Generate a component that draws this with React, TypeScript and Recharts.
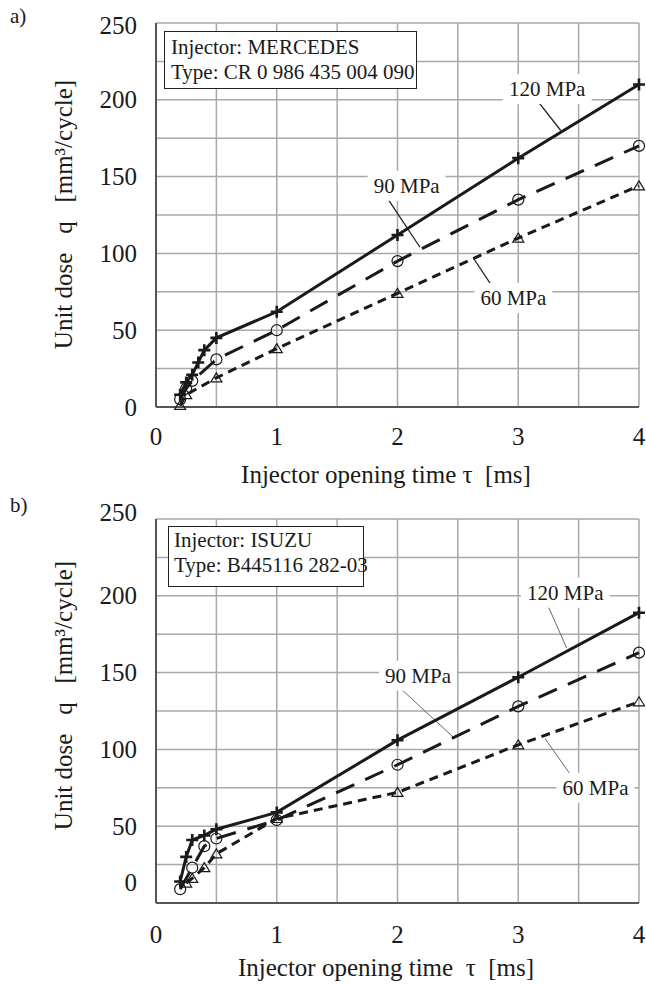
import React from "react";
import { LineChart, Line, XAxis, YAxis, CartesianGrid, ReferenceLine, ReferenceDot } from "recharts";

const xTicks = [0, 0.5, 1, 1.5, 2, 2.5, 3, 3.5, 4];
const yTicks = [0, 25, 50, 75, 100, 125, 150, 175, 200, 225, 250];

// a) MERCEDES CR 0 986 435 004 090
const tauA120 = [0.2, 0.25, 0.3, 0.35, 0.4, 0.5, 1, 2, 3, 4];
const doseA120 = [8, 16, 21, 29, 37, 45, 62, 112, 162, 210];
const tauA90 = [0.2, 0.25, 0.3, 0.5, 1, 2, 3, 4];
const doseA90 = [5, 12, 17, 31, 50, 95, 135, 170];
const tauA60 = [0.2, 0.25, 0.5, 1, 2, 3, 4];
const doseA60 = [1, 8, 19, 38, 74, 110, 144];

// b) ISUZU B445116 282-03
const tauB120 = [0.2, 0.25, 0.3, 0.4, 0.5, 1, 2, 3, 4];
const doseB120 = [14, 30, 41, 44, 48, 59, 106, 147, 189];
const tauB90 = [0.2, 0.3, 0.4, 0.5, 1, 2, 3, 4];
const doseB90 = [9, 23, 37, 42, 54, 90, 128, 163];
const tauB60 = [0.25, 0.3, 0.4, 0.5, 1, 2, 3, 4];
const doseB60 = [13, 16, 23, 32, 55, 72, 103, 131];

const pressures = ["120 MPa", "90 MPa", "60 MPa"];

const toPoints = (tau: number[], dose: number[]) => tau.map((t, i) => ({ tau: t, dose: dose[i] }));

// label centre + leader line, in data units
const notesA = [
  { text: "120 MPa", x: 3.24, y: 207, from: [3.153, 200], to: [3.352, 180] },
  { text: "90 MPa", x: 2.076, y: 144, from: [1.924, 135], to: [2.186, 104] },
  { text: "60 MPa", x: 2.96, y: 71, from: [2.628, 97], to: [2.78, 79] },
];
const notesB = [
  { text: "120 MPa", x: 3.39, y: 202, from: [3.249, 193], to: [3.401, 166] },
  { text: "90 MPa", x: 2.17, y: 148, from: [2.021, 140], to: [2.462, 108] },
  { text: "60 MPa", x: 3.64, y: 75, from: [3.222, 107], to: [3.429, 84] },
];

const INK = "#1a1a1a";
const FONT = "'Liberation Serif', 'Times New Roman', serif";

const Plus = (p: any) => (
  <path
    key={p.key ?? p.index}
    d={`M${p.cx - 6},${p.cy}H${p.cx + 6}M${p.cx},${p.cy - 6}V${p.cy + 6}`}
    stroke={INK}
    strokeWidth={2.6}
  />
);
const Ring = (p: any) => (
  <circle key={p.key ?? p.index} cx={p.cx} cy={p.cy} r={5.5} fill="none" stroke={INK} strokeWidth={1.2} />
);
const Tri = (p: any) => (
  <path
    key={p.key ?? p.index}
    d={`M${p.cx},${p.cy - 5}L${p.cx + 5.5},${p.cy + 4}L${p.cx - 5.5},${p.cy + 4}Z`}
    fill="none"
    stroke={INK}
    strokeWidth={1.2}
  />
);

const YTick = ({ x, y, payload, shift }: any) => {
  if (payload.value % 50 !== 0) return <g />;
  return (
    <text x={x} y={y + (shift[payload.value] ?? 0)} textAnchor="end" dominantBaseline="central" fontSize={25} fill={INK}>
      {payload.value}
    </text>
  );
};

const XTick = ({ x, y, payload }: any) => {
  if (!Number.isInteger(payload.value)) return <g />;
  return (
    <text x={x} y={y} dy="0.71em" textAnchor="middle" fontSize={25} fill={INK}>
      {payload.value}
    </text>
  );
};

const noteShape = (text: string) => (p: any) => {
  const w = text.length * 11 + 12;
  return (
    <g>
      <rect x={p.cx - w / 2} y={p.cy - 15} width={w} height={30} fill="#fff" />
      <text x={p.cx} y={p.cy} textAnchor="middle" dominantBaseline="central" fontSize={21} fill={INK}>
        {text}
      </text>
    </g>
  );
};

type PanelProps = {
  top: number;
  plotTop: number;
  series: { tau: number[]; dose: number[] }[];
  notes: typeof notesA;
  leader: { color: string; width: number };
  xTickGap: number;
  yShift: Record<number, number>;
};

function Panel({ top, plotTop, series, notes, leader, xTickGap, yShift }: PanelProps) {
  const styles = [
    { dash: undefined, dot: Plus, w: 3 },
    { dash: "20 12", dot: Ring, w: 3 },
    { dash: "9 6", dot: Tri, w: 3 },
  ];
  return (
    <div style={{ position: "absolute", left: 0, top }}>
      <LineChart width={646} height={480} margin={{ top: plotTop, right: 7, left: 96, bottom: 480 - plotTop - 384 - 40 }}>
        <CartesianGrid stroke="#a9a9a9" strokeWidth={1.5} />
        <XAxis
          type="number"
          dataKey="tau"
          domain={[0, 4]}
          ticks={xTicks}
          height={40}
          tickSize={0}
          tickMargin={xTickGap}
          tick={<XTick />}
          axisLine={{ stroke: "#555", strokeWidth: 2 }}
          tickLine={false}
          allowDuplicatedCategory={false}
        />
        <YAxis
          type="number"
          dataKey="dose"
          domain={[0, 250]}
          ticks={yTicks}
          width={60}
          tickSize={0}
          tickMargin={19}
          tick={<YTick shift={yShift} />}
          axisLine={{ stroke: "#555", strokeWidth: 2 }}
          tickLine={false}
        />
        {notes.map((n) => (
          <ReferenceLine
            key={n.text + "-leader"}
            segment={[
              { x: n.from[0], y: n.from[1] },
              { x: n.to[0], y: n.to[1] },
            ]}
            stroke={leader.color}
            strokeWidth={leader.width}
          />
        ))}
        {notes.map((n) => (
          <ReferenceDot key={n.text} x={n.x} y={n.y} r={0} shape={noteShape(n.text)} />
        ))}
        {series.map((s, i) => (
          <Line
            key={pressures[i]}
            name={pressures[i]}
            data={toPoints(s.tau, s.dose)}
            dataKey="dose"
            type="linear"
            stroke={INK}
            strokeWidth={styles[i].w}
            strokeDasharray={styles[i].dash}
            dot={styles[i].dot}
            activeDot={false}
            isAnimationActive={false}
          />
        ))}
      </LineChart>
    </div>
  );
}

const boxText: React.CSSProperties = {
  position: "absolute",
  background: "#fff",
  border: "1.5px solid #222",
  fontSize: 21,
  lineHeight: "25px",
  whiteSpace: "nowrap",
  color: INK,
  boxSizing: "border-box",
};

const xTitle: React.CSSProperties = {
  position: "absolute",
  left: 0,
  width: 772,
  textAlign: "center",
  fontSize: 25,
  lineHeight: "25px",
  whiteSpace: "pre",
  color: INK,
};

const yTitle: React.CSSProperties = {
  position: "absolute",
  width: 320,
  height: 25,
  fontSize: 25,
  lineHeight: "25px",
  textAlign: "center",
  whiteSpace: "pre",
  transform: "rotate(-90deg)",
  color: INK,
};

export default function App() {
  return (
    <div style={{ position: "absolute", left: 0, top: 0, width: 646, height: 985, background: "#fff", fontFamily: FONT }}>
      <div style={{ position: "absolute", left: 10, top: 4, fontSize: 21, color: INK }}>a)</div>
      <div style={{ position: "absolute", left: 10, top: 493, fontSize: 21, color: INK }}>b)</div>

      <Panel
        top={0}
        plotTop={23}
        series={[
          { tau: tauA120, dose: doseA120 },
          { tau: tauA90, dose: doseA90 },
          { tau: tauA60, dose: doseA60 },
        ]}
        notes={notesA}
        leader={{ color: "#222", width: 1.3 }}
        xTickGap={20}
        yShift={{ 250: 2 }}
      />
      <Panel
        top={480}
        plotTop={39}
        series={[
          { tau: tauB120, dose: doseB120 },
          { tau: tauB90, dose: doseB90 },
          { tau: tauB60, dose: doseB60 },
        ]}
        notes={notesB}
        leader={{ color: "#666", width: 1 }}
        xTickGap={22}
        yShift={{ 250: -7, 0: -21 }}
      />

      <div style={{ ...boxText, left: 164, top: 31, width: 253, height: 58, paddingTop: 3, paddingLeft: 6 }}>
        Injector: MERCEDES
        <br />
        Type: CR 0 986 435 004 090
      </div>
      <div style={{ ...boxText, left: 168, top: 526, width: 196, height: 61, paddingTop: 1, paddingLeft: 5 }}>
        Injector: ISUZU
        <br />
        Type: B445116 282-03
      </div>

      <div style={{ ...xTitle, top: 462 }}>{"Injector opening time τ  [ms]"}</div>
      <div style={{ ...xTitle, top: 955 }}>{"Injector opening time  τ  [ms]"}</div>

      <div style={{ ...yTitle, left: 63 - 160, top: 214 - 12.5 }}>{"Unit dose   q   [mm³/cycle]"}</div>
      <div style={{ ...yTitle, left: 63 - 160, top: 695 - 12.5 }}>{"Unit dose   q   [mm³/cycle]"}</div>
    </div>
  );
}
